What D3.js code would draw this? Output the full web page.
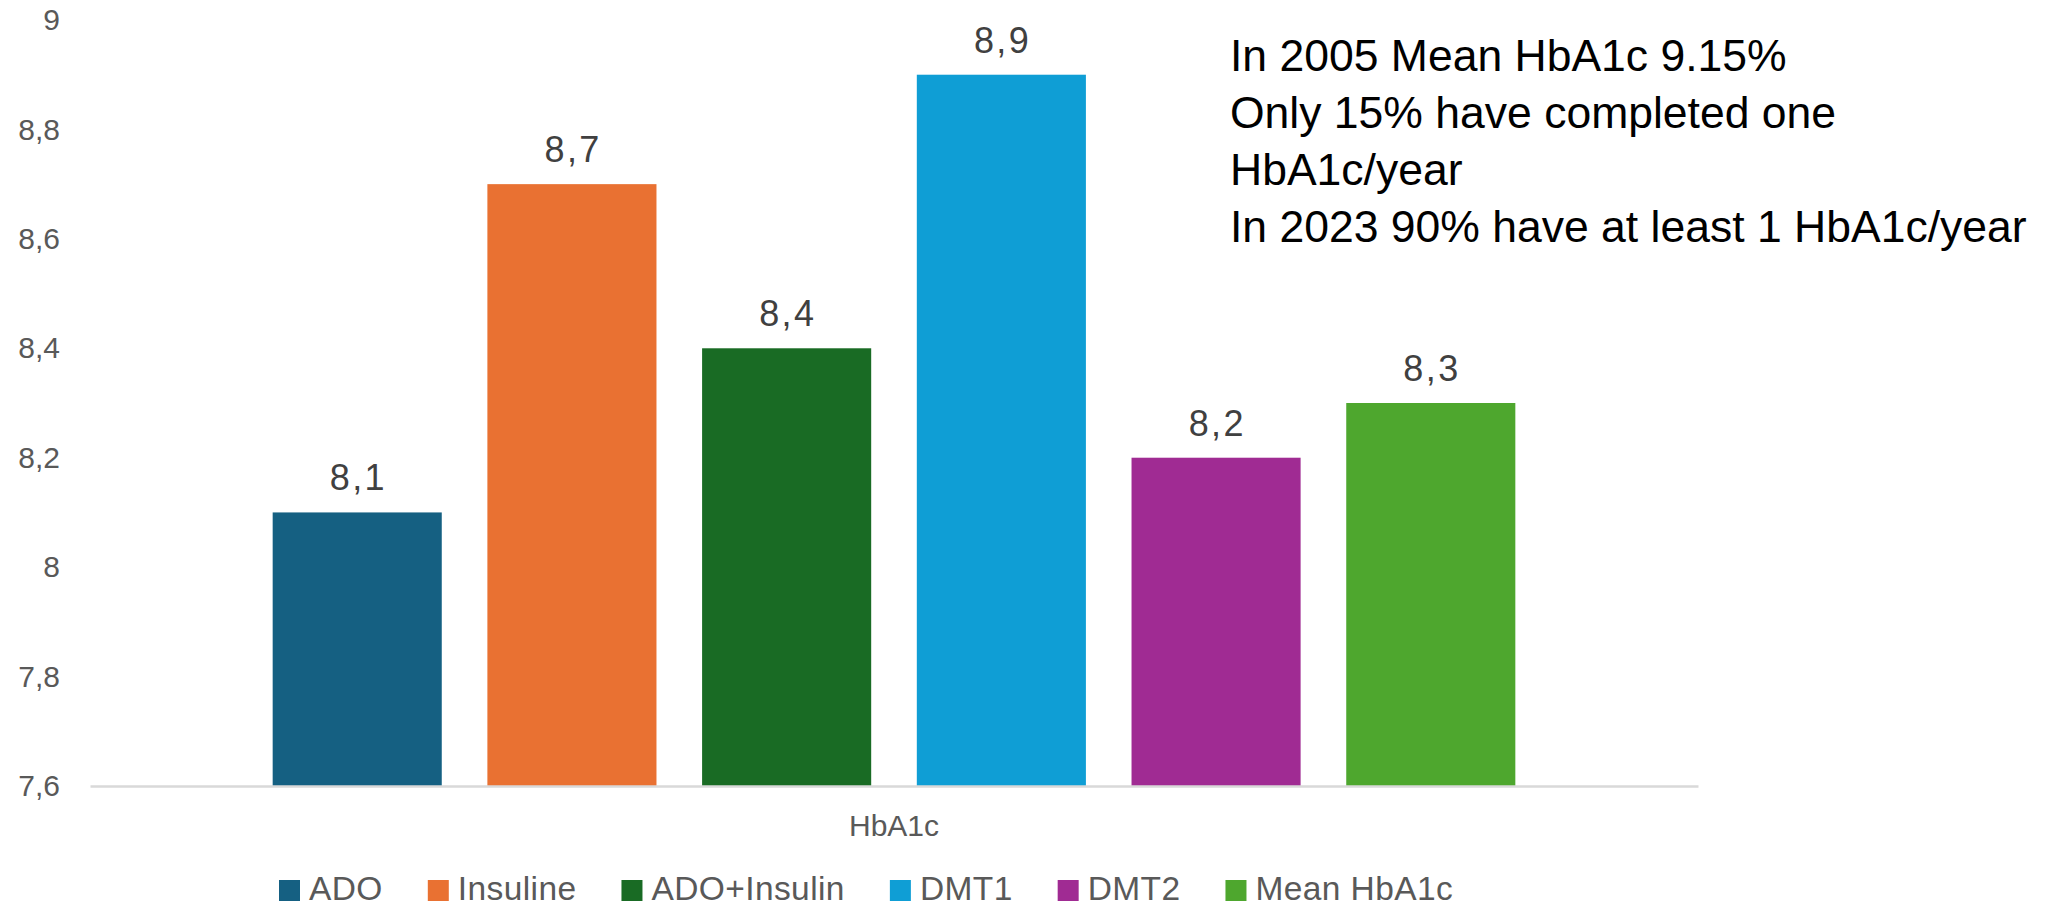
<!DOCTYPE html>
<html>
<head>
<meta charset="utf-8">
<script src="https://cdn.jsdelivr.net/npm/d3@7/dist/d3.min.js"></script>
<style>
  html, body { margin: 0; padding: 0; background: #fff; }
  svg { display: block; font-family: "Liberation Sans", Arial, sans-serif; }
</style>
</head>
<body>
<svg id="chart" width="2070" height="907"></svg>
<script>
// ---- data ----
const categories = ["HbA1c"];
const seriesNames = ["ADO", "Insuline", "ADO+Insulin", "DMT1", "DMT2", "Mean HbA1c"];
const seriesValues = [8.1, 8.7, 8.4, 8.9, 8.2, 8.3];
const seriesColors = ["#156082", "#E97132", "#196B24", "#0F9ED5", "#A02B93", "#4EA72E"];
const yTicks = [7.6, 7.8, 8.0, 8.2, 8.4, 8.6, 8.8, 9.0];
const annotationLines = [
  "In 2005 Mean HbA1c 9.15%",
  "Only 15% have completed one",
  "HbA1c/year",
  "In 2023 90% have at least 1 HbA1c/year"
];

const svg = d3.select("#chart");
const plot = { left: 90, right: 1698, top: 20, bottom: 786 };

const fmt = v => d3.format(".1~f")(v).replace(".", ",");

const y = d3.scaleLinear().domain([7.6, 9.0]).range([plot.bottom, plot.top]);
const x0 = d3.scaleBand().domain(categories).range([plot.left, plot.right])
  .paddingInner(0).paddingOuter(0.147);
const x1 = d3.scaleBand().domain(seriesNames).range([0, x0.bandwidth()])
  .paddingInner(0.2125).paddingOuter(0);

// y axis labels
const yAxis = d3.axisLeft(y).tickValues(yTicks).tickFormat(fmt).tickSize(0).tickPadding(0);
const gy = svg.append("g").attr("transform", `translate(60,0)`).call(yAxis);
gy.select(".domain").remove();
gy.selectAll("text").attr("fill", "#595959").style("font-size", "30px")
  .style("font-family", "'Liberation Sans', Arial, sans-serif");

// bars
const data = seriesNames.map((s, i) => ({ cat: categories[0], name: s, value: seriesValues[i], color: seriesColors[i] }));
const g = svg.append("g");
g.selectAll("rect.bar").data(data).join("rect")
  .attr("class", "bar")
  .attr("x", d => x0(d.cat) + x1(d.name))
  .attr("width", x1.bandwidth())
  .attr("y", d => y(d.value))
  .attr("height", d => y(7.6) - y(d.value))
  .attr("fill", d => d.color);

// baseline
const xAxis = d3.axisBottom(x0).tickSize(0).tickPadding(0);
const gx = svg.append("g").attr("transform", `translate(0,${plot.bottom})`).call(xAxis);
gx.select(".domain").attr("stroke", "#d9d9d9").attr("stroke-width", 2.5);
gx.selectAll("text").attr("fill", "#595959").style("font-size", "30px")
  .style("font-family", "'Liberation Sans', Arial, sans-serif")
  .attr("dy", "50px");

// data labels
g.selectAll("text.lbl").data(data).join("text")
  .attr("class", "lbl")
  .attr("x", d => x0(d.cat) + x1(d.name) + x1.bandwidth() / 2 + 1.2)
  .attr("y", d => y(d.value) - 22)
  .attr("text-anchor", "middle")
  .attr("fill", "#404040")
  .style("font-size", "36px")
  .style("letter-spacing", "2.4px")
  .text(d => fmt(d.value));

// annotation
const ann = svg.append("g").attr("transform", "translate(1230,0)");
ann.selectAll("text").data(annotationLines).join("text")
  .attr("x", 0)
  .attr("y", (d, i) => 71 + i * 57)
  .attr("fill", "#000")
  .style("font-size", "44.5px")
  .text(d => d);

// legend
const legend = svg.append("g").attr("transform", "translate(279,0)");
let lx = 0;
data.forEach(d => {
  const item = legend.append("g").attr("transform", `translate(${lx},0)`);
  item.append("rect").attr("x", 0).attr("y", 880).attr("width", 21).attr("height", 21).attr("fill", d.color);
  const t = item.append("text").attr("x", 30).attr("y", 900).attr("fill", "#595959")
    .style("font-size", "33.5px").style("letter-spacing", "0.4px").text(d.name);
  lx += 30 + t.node().getComputedTextLength() + 45;
});
</script>
</body>
</html>
